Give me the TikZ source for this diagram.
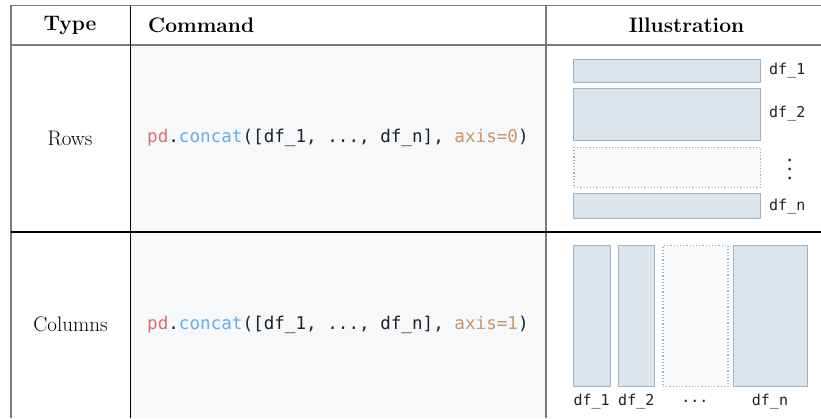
\documentclass[tikz,border=0pt]{standalone}
\usepackage{fontspec}
\setmonofont{DejaVu Sans Mono}
\definecolor{codebg}{HTML}{F6F8FA}
\definecolor{boxfill}{HTML}{DCE4EC}
\definecolor{boxline}{HTML}{9AB4CA}
\definecolor{dotfill}{HTML}{F7F9FB}
\definecolor{kwred}{HTML}{E06C75}
\definecolor{kwblue}{HTML}{61AFEF}
\definecolor{kwbrown}{HTML}{C8956A}
\definecolor{gridgrey}{HTML}{7A7A7A}
\definecolor{codetext}{HTML}{1E2226}
\tikzset{
  headtxt/.style={font=\fontsize{21}{24}\selectfont\bfseries, inner sep=0pt},
  typetxt/.style={font=\fontsize{21}{24}\selectfont, inner sep=0pt},
  codetxt/.style={font=\fontsize{17.6}{20}\selectfont\ttfamily, text=codetext, inner sep=0pt, anchor=west},
  lbl/.style={font=\fontsize{15}{17}\selectfont\ttfamily, text=codetext, inner sep=0pt},
  dfbox/.style={draw=boxline, fill=boxfill, line width=1pt, inner sep=0pt, anchor=north west},
  dotbox/.style={draw=boxline, fill=dotfill, line width=1.2pt, dotted, inner sep=0pt, anchor=north west},
  vdot/.style={circle, fill=codetext, inner sep=0pt, minimum size=3pt},
}
\begin{document}
\begin{tikzpicture}[x=1pt,y=-1pt]
\useasboundingbox (0,0) rectangle (821,418);
\fill[white] (0,0) rectangle (821,418);
% code cell background
\fill[codebg] (130,45) rectangle (546,418);
% grid
\draw[gridgrey, line width=1.4pt] (10.8,418) -- (10.8,5.5) -- (821,5.5);
\draw[gridgrey, line width=1.2pt] (10.8,45) -- (821,45);
\draw[black, line width=0.8pt] (130,5.5) -- (130,418);
\draw[gridgrey, line width=1.4pt] (546,5.5) -- (546,418);
\draw[black, line width=1.1pt] (10.8,232) -- (821,232);
% header
\node[headtxt] (hType) at (70,25) {Type};
\node[headtxt, anchor=west] (hCmd) at (148,25) {Command};
\node[headtxt] (hIll) at (686.5,25) {Illustration};
% rows
\node[typetxt] (tRows) at (70,138) {Rows};
\node[codetxt] (cRows) at (147,138) {\textcolor{kwred}{pd}.\textcolor{kwblue}{concat}([df\_1, ..., df\_n], \textcolor{kwbrown}{axis=0})};
\node[typetxt] (tCols) at (70.5,324) {Columns};
\node[codetxt] (cCols) at (147,325) {\textcolor{kwred}{pd}.\textcolor{kwblue}{concat}([df\_1, ..., df\_n], \textcolor{kwbrown}{axis=1})};
% row illustration
\node[dfbox, minimum width=186.7pt, minimum height=22.7pt] (r1) at (573.3,59.3) {};
\node[dfbox, minimum width=186.7pt, minimum height=51.7pt] (r2) at (573.3,88.3) {};
\node[dotbox, minimum width=186.7pt, minimum height=40pt] (rd) at (573.3,146.7) {};
\node[dfbox, minimum width=186.7pt, minimum height=25pt] (rn) at (573.3,193.3) {};
\node[lbl, anchor=west] (lr1) at (769,70.5) {df\_1};
\node[lbl, anchor=west] (lr2) at (769,114) {df\_2};
\node[lbl, anchor=west] (lrn) at (769,207) {df\_n};
\node[vdot] (d1) at (789.5,160) {};
\node[vdot] (d2) at (789.5,169) {};
\node[vdot] (d3) at (789.5,178) {};
% column illustration
\node[dfbox, minimum width=36.7pt, minimum height=141pt] (c1) at (573.3,245) {};
\node[dfbox, minimum width=36pt, minimum height=141pt] (c2) at (618.3,245) {};
\node[dotbox, minimum width=65pt, minimum height=141pt] (cd) at (662.3,245) {};
\node[dfbox, minimum width=73.4pt, minimum height=141pt] (cn) at (733.3,245) {};
\node[lbl] (lc1) at (591.7,401.5) {df\_1};
\node[lbl] (lc2) at (636.3,401.5) {df\_2};
\node[lbl] (lcd) at (694.8,401.5) {...};
\node[lbl] (lcn) at (770,401.5) {df\_n};
\end{tikzpicture}
\end{document}
